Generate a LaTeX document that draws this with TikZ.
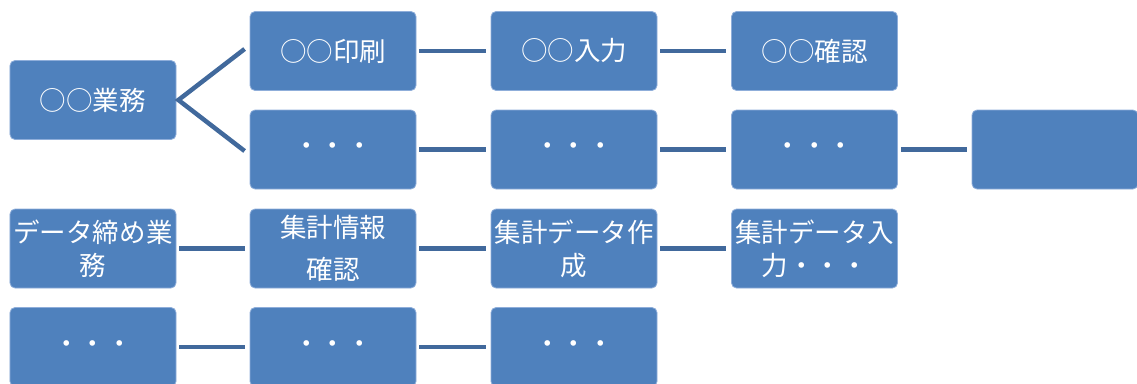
\documentclass[tikz,border=0pt]{standalone}
\usepackage{fontspec}
\setmainfont{Noto Sans CJK JP}
\definecolor{boxfill}{HTML}{4F81BD}
\definecolor{boxline}{HTML}{8FAEDA}
\definecolor{conn}{HTML}{41699C}
\begin{document}
\begin{tikzpicture}[x=1bp,y=-1bp,
  box/.style={draw=boxline, line width=0.8bp, fill=boxfill, rounded corners=5bp,
    minimum width=166bp, minimum height=79bp, inner sep=0pt, text=white,
    align=center, font=\fontsize{26.5bp}{33bp}\selectfont},
  link/.style={draw=conn, line width=4.5bp, shorten <=3bp, shorten >=5bp}]
\useasboundingbox (0,0) rectangle (1137,383);
\clip (0,0) rectangle (1137,383);
% row 0 / 1
\node[box] (g)  at (93,100)   {○○業務};
\node[box] (a1) at (333,51)   {○○印刷};
\node[box] (a2) at (574,51)   {○○入力};
\node[box] (a3) at (814.5,51) {○○確認};
\node[box] (b1) at (333,149.5)   {・・・};
\node[box] (b2) at (574,149.5)   {・・・};
\node[box] (b3) at (814.5,149.5) {・・・};
\node[box] (b4) at (1055,149.5)  {};
% row 2
\node[box] (c0) at (93,248.5)    {データ締め業\\務};
\node[box] (c1) at (333,248.5)   {集計情報\\[9bp]確認};
\node[box] (c2) at (574,248.5)   {集計データ作\\成};
\node[box] (c3) at (814.5,248.5) {集計データ入\\力・・・};
% row 3
\node[box] (d0) at (93,347)  {・・・};
\node[box] (d1) at (333,347) {・・・};
\node[box] (d2) at (574,347) {・・・};
% branch
\coordinate (apex) at ([xshift=2bp]g.east);
\coordinate (e1) at ([xshift=-5bp,yshift=2bp]a1.west);
\coordinate (e2) at ([xshift=-5bp,yshift=-1.5bp]b1.west);
\draw[conn, line width=4.5bp, miter limit=10] (e1) -- (apex) -- (e2);
% horizontal links
\draw[link] (a1) -- (a2);
\draw[link] (a2) -- (a3);
\draw[link] (b1) -- (b2);
\draw[link] (b2) -- (b3);
\draw[link] (b3) -- (b4);
\draw[link] (c0) -- (c1);
\draw[link] (c1) -- (c2);
\draw[link] (c2) -- (c3);
\draw[link] (d0) -- (d1);
\draw[link] (d1) -- (d2);
\end{tikzpicture}
\end{document}
